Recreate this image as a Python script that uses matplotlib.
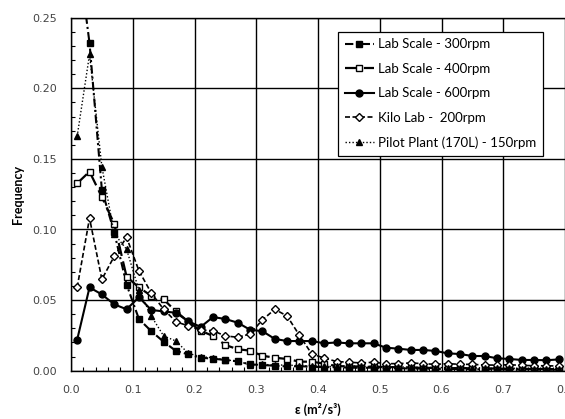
import matplotlib
matplotlib.use("Agg")
import matplotlib.pyplot as plt
from matplotlib.ticker import MultipleLocator, FormatStrFormatter

eps = [0.01, 0.03, 0.05, 0.07, 0.09, 0.11, 0.13, 0.15, 0.17, 0.19,
       0.21, 0.23, 0.25, 0.27, 0.29, 0.31, 0.33, 0.35, 0.37, 0.39,
       0.41, 0.43, 0.45, 0.47, 0.49, 0.51, 0.53, 0.55, 0.57, 0.59,
       0.61, 0.63, 0.65, 0.67, 0.69, 0.71, 0.73, 0.75, 0.77, 0.79]

lab300 = [0.30, 0.232, 0.128, 0.098, 0.061, 0.0366, 0.028, 0.0205, 0.014, 0.0116,
          0.0092, 0.0085, 0.0076, 0.0066, 0.0045, 0.004, 0.0035, 0.003, 0.0032, 0.0028,
          0.0025, 0.0025, 0.0022, 0.002, 0.0022, 0.0018, 0.0018, 0.0015, 0.0015, 0.0013,
          0.0012, 0.0012, 0.001, 0.001, 0.001, 0.0008, 0.0008, 0.0008, 0.0007, 0.0007]

lab400 = [0.1327, 0.141, 0.123, 0.104, 0.0666, 0.059, 0.053, 0.0505, 0.042, 0.0347,
          0.0283, 0.0246, 0.0182, 0.0152, 0.0142, 0.0106, 0.0092, 0.0083, 0.0064, 0.0064,
          0.005, 0.0033, 0.003, 0.003, 0.0028, 0.0025, 0.0025, 0.0022, 0.002, 0.002,
          0.0018, 0.0018, 0.0017, 0.0015, 0.0015, 0.0013, 0.0013, 0.0012, 0.0012, 0.001]

lab600 = [0.022, 0.059, 0.054, 0.047, 0.0435, 0.052, 0.043, 0.042, 0.041, 0.035,
          0.031, 0.038, 0.0366, 0.034, 0.029, 0.028, 0.0225, 0.021, 0.021, 0.021,
          0.0194, 0.020, 0.0194, 0.0194, 0.0194, 0.0163, 0.0156, 0.0147, 0.0147, 0.014,
          0.0123, 0.0118, 0.0104, 0.0104, 0.0088, 0.0083, 0.0076, 0.0076, 0.0074, 0.008]

kilo200 = [0.059, 0.108, 0.0647, 0.081, 0.0945, 0.0708, 0.055, 0.0435, 0.0347, 0.0317,
           0.0288, 0.0283, 0.0246, 0.0237, 0.026, 0.036, 0.0435, 0.0387, 0.025, 0.0118,
           0.009, 0.0065, 0.006, 0.0055, 0.006, 0.005, 0.005, 0.0055, 0.005, 0.0045,
           0.005, 0.0045, 0.0045, 0.004, 0.004, 0.0042, 0.0038, 0.0035, 0.0035, 0.0033]

pilot150 = [0.166, 0.224, 0.1445, 0.097, 0.086, 0.057, 0.0387, 0.0246, 0.021, 0.0123,
            0.0099, 0.0092, 0.0076, 0.0069, 0.004, 0.0045, 0.004, 0.004, 0.0035, 0.0035,
            0.003, 0.003, 0.0035, 0.003, 0.003, 0.0028, 0.0028, 0.0025, 0.0025, 0.0022,
            0.0022, 0.002, 0.002, 0.002, 0.0018, 0.0018, 0.0015, 0.0015, 0.0015, 0.0013]

labels = ["Lab Scale - 300rpm", "Lab Scale - 400rpm", "Lab Scale - 600rpm",
          "Kilo Lab -  200rpm", "Pilot Plant (170L) - 150rpm"]

fig = plt.figure(figsize=(5.65, 4.19), dpi=100)
ax = fig.add_axes([71/565, 1 - 370.7/419, (565 - 71)/565, (370.7 - 17.7)/419])

ax.plot(eps, lab300, color="black", linestyle=(0, (4, 1.5, 1, 1.5)), linewidth=1.5,
        marker="s", markersize=4.5, markerfacecolor="black", markeredgecolor="black",
        label=labels[0])
ax.plot(eps, lab400, color="black", linestyle=(0, (6, 2.5)), linewidth=1.6,
        marker="s", markersize=4.5, markerfacecolor="white", markeredgecolor="black",
        markeredgewidth=1.0, label=labels[1])
ax.plot(eps, lab600, color="black", linestyle="-", linewidth=1.5,
        marker="o", markersize=5, markerfacecolor="black", markeredgecolor="black",
        label=labels[2])
ax.plot(eps, kilo200, color="black", linestyle=(0, (3, 1.5)), linewidth=1.2,
        marker="D", markersize=4.5, markerfacecolor="white", markeredgecolor="black",
        markeredgewidth=1.0, label=labels[3])
ax.plot(eps, pilot150, color="black", linestyle=(0, (1, 1.5)), linewidth=1.0,
        marker="^", markersize=5, markerfacecolor="black", markeredgecolor="black",
        label=labels[4])

ax.set_xlim(0, 0.8)
ax.set_ylim(0, 0.25)
ax.xaxis.set_major_locator(MultipleLocator(0.1))
ax.xaxis.set_minor_locator(MultipleLocator(0.02))
ax.yaxis.set_major_locator(MultipleLocator(0.05))
ax.yaxis.set_minor_locator(MultipleLocator(0.01))
ax.xaxis.set_major_formatter(FormatStrFormatter("%.1f"))
ax.yaxis.set_major_formatter(FormatStrFormatter("%.2f"))

ax.grid(True, which="major", color="black", linewidth=1.0)
ax.set_axisbelow(True)
ax.tick_params(which="both", direction="in", colors="black", labelcolor="#444444",
               labelsize=8)
ax.tick_params(axis="y", which="major", length=0, pad=10)
ax.tick_params(axis="x", which="major", length=0, pad=10)
ax.tick_params(which="minor", length=3, width=0.8)
for lab in ax.get_xticklabels() + ax.get_yticklabels():
    lab.set_family("DejaVu Sans")

for s in ["left", "bottom", "top"]:
    ax.spines[s].set_color("black")
    ax.spines[s].set_linewidth(1.0)
ax.spines["right"].set_visible(False)

ax.set_xlabel("ε (m²/s³)", fontsize=9, fontweight="bold", family=["Lato", "DejaVu Sans"],
              labelpad=6)
ax.set_ylabel("Frequency", fontsize=9, fontweight="bold", family=["Lato", "DejaVu Sans"],
              labelpad=6)

leg = ax.legend(loc="upper left", bbox_to_anchor=((338 - 71) / 494, 1 - (31.7 - 17.7) / 353),
                prop={"family": "Lato", "size": 9.5}, frameon=True, fancybox=False,
                edgecolor="black", framealpha=1.0, handlelength=2.2, handletextpad=0.35,
                labelspacing=0.95, borderpad=0.5, borderaxespad=0)
leg.get_frame().set_linewidth(0.9)

fig.savefig("out.png", dpi=100)
